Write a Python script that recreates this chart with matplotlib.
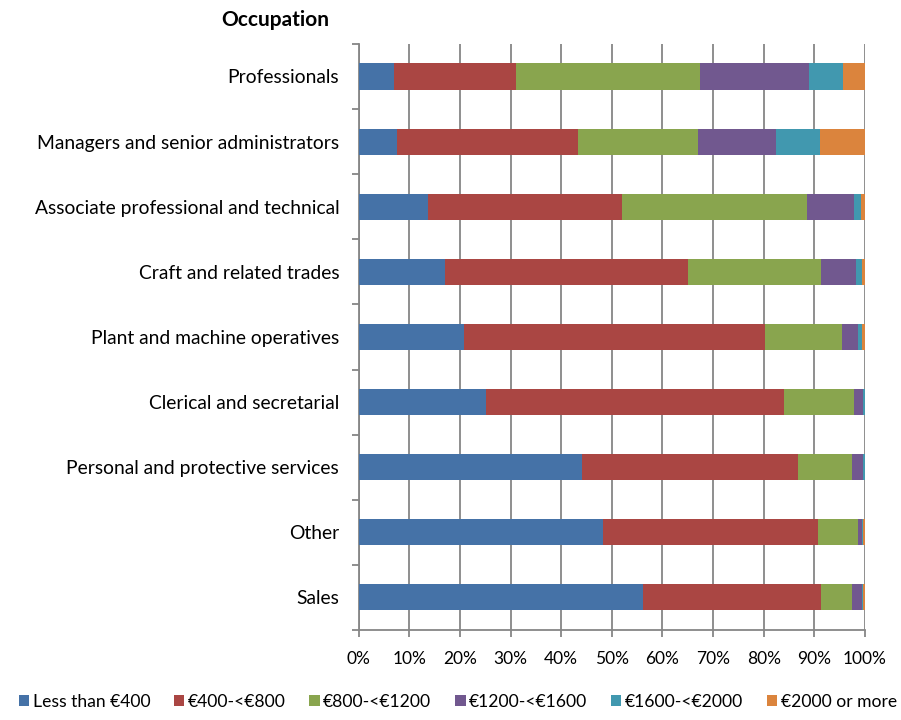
import matplotlib.pyplot as plt
import numpy as np
from matplotlib.ticker import FuncFormatter, FixedLocator

# income band shares (%) per occupation, listed top to bottom
occupations = [
    "Professionals",
    "Managers and senior administrators",
    "Associate professional and technical",
    "Craft and related trades",
    "Plant and machine operatives",
    "Clerical and secretarial",
    "Personal and protective services",
    "Other",
    "Sales",
]
bands = ["Less than €400", "€400-<€800", "€800-<€1200",
         "€1200-<€1600", "€1600-<€2000", "€2000 or more"]

less_400 = [6.9, 7.6, 13.7, 17.1, 20.9, 25.2, 44.2, 48.2, 56.2]
b400_800 = [24.2, 35.8, 38.4, 47.9, 59.3, 58.8, 42.5, 42.6, 35.1]
b800_1200 = [36.3, 23.7, 36.4, 26.4, 15.3, 13.9, 10.7, 7.8, 6.1]
b1200_1600 = [21.6, 15.3, 9.3, 6.9, 3.1, 1.8, 2.3, 0.9, 2.0]
b1600_2000 = [6.7, 8.7, 1.5, 1.2, 0.8, 0.3, 0.3, 0.1, 0.2]
over_2000 = [4.3, 8.9, 0.7, 0.5, 0.6, 0.0, 0.0, 0.4, 0.4]

colors = ["#4572A7", "#AA4643", "#89A54E", "#71588F", "#4198AF", "#DB843D"]
grid_color = "#868686"

plt.rcParams["font.family"] = ["Lato", "DejaVu Sans"]

fig = plt.figure(figsize=(9.01, 7.2), dpi=100)
ax = fig.add_axes([0.398, 0.125, 0.562, 0.814])

series = [less_400, b400_800, b800_1200, b1200_1600, b1600_2000, over_2000]
y = np.arange(len(occupations))
left = np.zeros(len(occupations))
for vals, col, lab in zip(series, colors, bands):
    vals = np.array(vals)
    ax.barh(y, vals, height=0.4, left=left, color=col, label=lab, zorder=3)
    left += vals

ax.set_xlim(0, 100)
ax.set_ylim(len(occupations) - 0.5, -0.5)
ax.set_xticks(np.arange(0, 101, 10))
ax.xaxis.set_major_formatter(FuncFormatter(lambda v, p: f"{v:.0f}%"))

# category labels centred on bars, tick marks on the boundaries
ax.yaxis.set_major_locator(FixedLocator(np.arange(-0.5, len(occupations), 1)))
ax.yaxis.set_major_formatter(FuncFormatter(lambda v, p: ""))
ax.yaxis.set_minor_locator(FixedLocator(y))
ax.set_yticklabels(occupations, minor=True)
ax.tick_params(axis="y", which="minor", length=0, pad=14, labelsize=13.9)
ax.tick_params(axis="y", which="major", length=5, width=1.3, color=grid_color)
ax.tick_params(axis="x", length=5, width=1.3, color=grid_color, labelsize=12.5, pad=10)

ax.grid(axis="x", color=grid_color, linewidth=1.3, zorder=0)
for side in ["top", "right"]:
    ax.spines[side].set_visible(False)
for side in ["left", "bottom"]:
    ax.spines[side].set_color(grid_color)
    ax.spines[side].set_linewidth(1.3)

fig.text(0.306, 0.972, "Occupation", fontsize=15, fontweight="bold",
         ha="center", va="center")

fig.legend(loc="lower center", bbox_to_anchor=(0.508, -0.008), ncol=6,
           frameon=False, fontsize=12.6, handlelength=0.6, handleheight=0.6,
           handletextpad=0.2, columnspacing=1.35)

fig.savefig("out.png", dpi=100)
